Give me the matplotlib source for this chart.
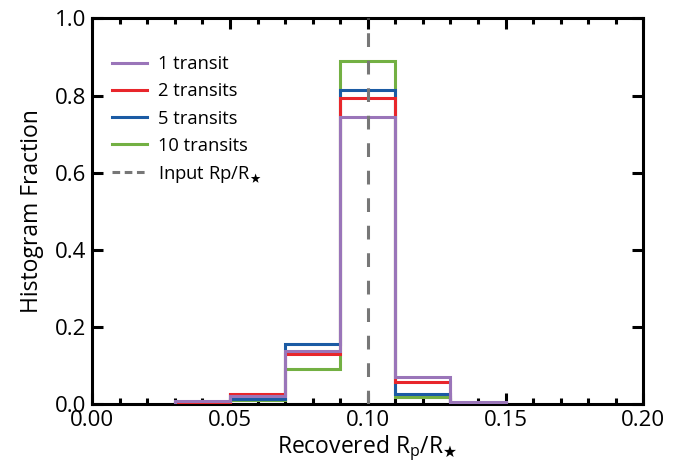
"""Histogram of recovered planet-to-star radius ratio for several transit counts."""

import matplotlib
matplotlib.use("Agg")
import matplotlib.pyplot as plt
from matplotlib.ticker import MultipleLocator

plt.rcParams["font.family"] = ["Open Sans", "DejaVu Sans"]
plt.rcParams["mathtext.fontset"] = "custom"
plt.rcParams["mathtext.rm"] = "Open Sans"
plt.rcParams["mathtext.it"] = "Open Sans:italic"

bin_edges = [0.03, 0.05, 0.07, 0.09, 0.11, 0.13, 0.15]
frac_1 = [0.007, 0.022, 0.138, 0.744, 0.071, 0.005]
frac_2 = [0.004, 0.026, 0.131, 0.794, 0.058, 0.004]
frac_5 = [0.003, 0.014, 0.157, 0.815, 0.027, 0.003]
frac_10 = [0.002, 0.012, 0.091, 0.889, 0.018, 0.002]
input_ratio = 0.10

labels = ["1 transit", "2 transits", "5 transits", "10 transits"]
colors = ["#9a75b9", "#e8262b", "#1b5ba4", "#73b043"]


def main() -> None:
    fig = plt.figure(figsize=(6.88, 4.70), dpi=100)
    ax = fig.add_axes([0.134, 0.140, 0.801, 0.821])

    series = [frac_1, frac_2, frac_5, frac_10]
    # draw 10 first so 1 transit lands on top
    for vals, lab, col, z in zip(series, labels, colors, [5, 4, 3, 2]):
        ax.stairs(vals, bin_edges, color=col, linewidth=2.2, label=lab, zorder=z)
    ax.axvline(input_ratio, color="#777777", linewidth=2.2, linestyle=(0, (4.5, 4.5)), zorder=6)

    ax.set_xlim(0.0, 0.20)
    ax.set_ylim(0.0, 1.0)
    ax.xaxis.set_major_locator(MultipleLocator(0.05))
    ax.xaxis.set_minor_locator(MultipleLocator(0.01))
    ax.yaxis.set_major_locator(MultipleLocator(0.2))
    ax.xaxis.set_major_formatter(lambda v, p: f"{v:.2f}")
    ax.yaxis.set_major_formatter(lambda v, p: f"{v:.1f}")

    ax.tick_params(which="both", direction="in", top=True, right=True, labelsize=16, width=2.2)
    ax.tick_params(which="major", length=8, pad=4)
    ax.tick_params(which="minor", length=4.5)
    for spine in ax.spines.values():
        spine.set_linewidth(2.2)

    ax.set_xlabel(r"Recovered R$_\mathrm{p}$/R$_\bigstar$", fontsize=16.5, labelpad=2)
    ax.set_ylabel("Histogram Fraction", fontsize=16.5, labelpad=8)

    leg_handles = [plt.Line2D([], [], color=c, linewidth=2.2) for c in colors]
    leg_handles.append(plt.Line2D([], [], color="#777777", linewidth=2.2, linestyle=(0, (2.5, 1.5))))
    ax.legend(leg_handles, labels + [r"Input Rp/R$_\bigstar$"], loc="upper left",
              bbox_to_anchor=(0.006, 0.947), frameon=False, fontsize=13.2,
              handlelength=1.9, handletextpad=0.6, labelspacing=0.5)

    fig.savefig("out.png", dpi=100)
    plt.close(fig)


if __name__ == "__main__":
    main()
